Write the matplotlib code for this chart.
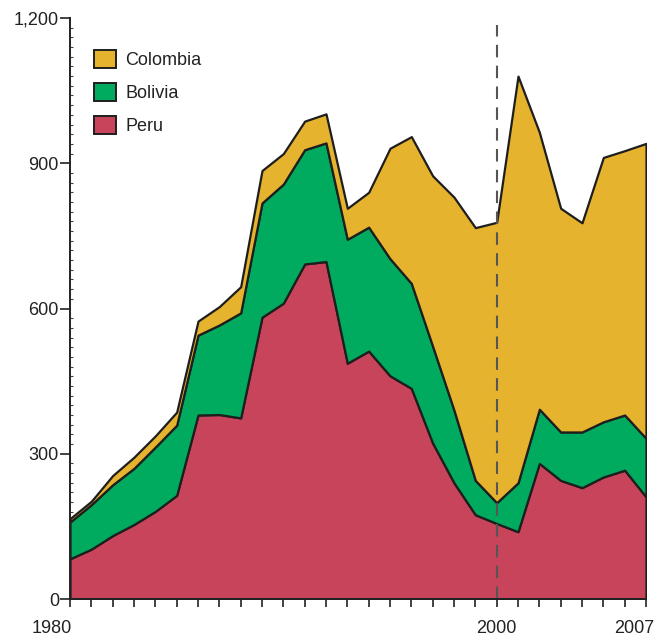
import numpy as np
import matplotlib
matplotlib.use("Agg")
import matplotlib.pyplot as plt
import matplotlib.transforms as mtransforms
from matplotlib.patches import Patch

plt.rcParams['font.family'] = ['Liberation Sans', 'DejaVu Sans']

# values (stacked: Peru, Bolivia, Colombia)
years = list(range(1980, 2008))
peru = [83, 103, 131, 154, 181, 214, 380, 381, 374, 582, 611, 692, 697, 487,
        512, 461, 435, 322, 240, 174, 156, 139, 280, 245, 230, 252, 266, 211]
bolivia = [76, 92, 105, 116, 133, 145, 165, 185, 217, 236, 246, 236, 245, 256,
           256, 242, 217, 200, 150, 71, 43, 101, 112, 100, 115, 114, 114, 121]
colombia = [7, 7, 19, 23, 23, 27, 29, 38, 54, 67, 63, 59, 60, 64,
            72, 228, 303, 352, 440, 522, 579, 840, 572, 462, 432, 546, 546, 609]
labels = ['Peru', 'Bolivia', 'Colombia']
colors = ['#C8445A', '#00AA5E', '#E6B32E']
ytick_vals = [0, 300, 600, 900, 1200]
xtick_labeled = {1980: '1980', 2000: '2000', 2007: '2007'}
marker_year = 2000

W, H = 665, 637
fig = plt.figure(figsize=(W / 100, H / 100), dpi=100)
ax = fig.add_axes([70 / W, 38 / H, 576 / W, 581 / H])
ax.set_axisbelow(True)

ax.stackplot(years, peru, bolivia, colombia, colors=colors,
             edgecolor='#1e1e1e', linewidth=1.6)

# dashed marker line at 2000
ax.vlines(marker_year, 0, 1185, colors='#555555', linewidth=1.5,
          linestyles=(0, (6, 4)), zorder=5)

ax.set_xlim(1980, 2007)
ax.set_ylim(0, 1200)
for s in ['top', 'right']:
    ax.spines[s].set_visible(False)
for s in ['left', 'bottom']:
    ax.spines[s].set_color('#222222')
    ax.spines[s].set_linewidth(1.4)
    ax.spines[s].set_zorder(6)

ax.set_yticks(ytick_vals)
ax.set_yticklabels([f'{v:,}' for v in ytick_vals])
ax.set_yticks(np.arange(0, 1201, 20), minor=True)
ax.tick_params(axis='y', which='major', direction='out', length=7, width=1.2,
               color='#222222', labelsize=13, labelcolor='#222222', pad=1)
ax.tick_params(axis='y', which='minor', direction='in', length=2, width=0.8,
               color='#444444')

ax.set_xticks(years)
ax.set_xticklabels([xtick_labeled.get(y, '') for y in years])
ax.tick_params(axis='x', which='major', direction='out', length=6, width=1.2,
               color='#222222', labelsize=13, labelcolor='#222222', pad=9)

# nudge edge year labels like the original
for lab, y in zip(ax.get_xticklabels(), years):
    if y == 1980:
        lab.set_ha('right')
        lab.set_transform(lab.get_transform() + mtransforms.ScaledTranslation(2 / 100, 0, fig.dpi_scale_trans))
    elif y == 2007:
        lab.set_transform(lab.get_transform() + mtransforms.ScaledTranslation(-12 / 100, 0, fig.dpi_scale_trans))

handles = [Patch(facecolor=c, edgecolor='#1e1e1e', linewidth=1.4, label=l)
           for c, l in zip(colors, labels)][::-1]
ax.legend(handles=handles, loc='upper left', bbox_to_anchor=(94 / W, 1 - 50 / H),
          bbox_transform=fig.transFigure, frameon=False, fontsize=13,
          handlelength=1.22, handleheight=1.16, labelspacing=0.76,
          handletextpad=0.5, borderpad=0, borderaxespad=0, labelcolor='#222222')

fig.savefig('out.png', dpi=100)
